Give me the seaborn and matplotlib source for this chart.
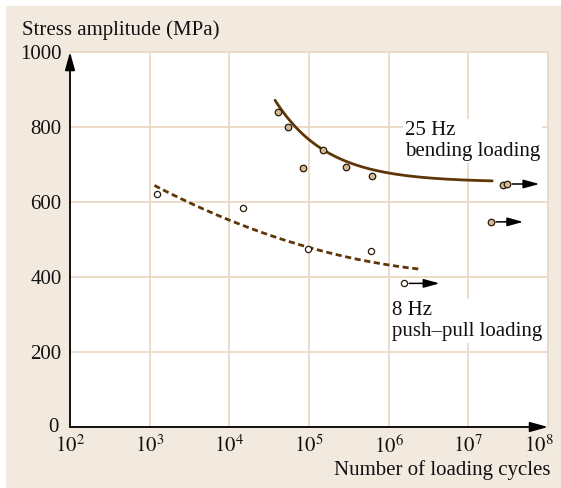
import numpy as np
import pandas as pd
import matplotlib
matplotlib.use("Agg")
import matplotlib.pyplot as plt
from matplotlib.patches import Rectangle
from matplotlib.transforms import ScaledTranslation
import seaborn as sns

# Bending loading (25 Hz): failures and run-outs
bend_cycles = [4.13e4, 5.42e4, 8.5e4, 1.51e5, 2.95e5, 6.17e5]
bend_stress = [839, 800, 691, 740, 693, 670]
bend_runout_cycles = [2.7e7, 3.1e7, 1.9e7]
bend_runout_stress = [645, 648, 547]

# Push-pull loading (8 Hz): failures and run-outs
pp_cycles = [1.22e3, 1.47e4, 9.7e4, 5.98e5]
pp_stress = [621, 583, 475, 469]
pp_runout_cycles = [1.58e6]
pp_runout_stress = [383]

# S-N trend curves (log10 cycles, stress)
bend_fit_logn = [4.574, 5.0, 5.18, 6.0]
bend_fit_stress = [865, 770, 740, 677]
bend_fit_limit = 653          # endurance level the bending curve levels off at
bend_fit_end = 7.3            # log10 cycles where the bending curve stops
pp_fit_logn = [3.06, 4.0, 5.0, 6.0, 6.38]
pp_fit_stress = [644, 552, 479, 431, 422]

y_ticks = [0, 200, 400, 600, 800, 1000]
x_ticks = [1e2, 1e3, 1e4, 1e5, 1e6, 1e7, 1e8]
x_tick_labels = [r"$10^{%d}$" % int(np.log10(t)) for t in x_ticks]

BEIGE = "#F2EADF"
GRID = "#EAD9C4"
BROWN = "#5E3608"
TAN = "#D5BA97"
FS = 15

sns.set_theme(style="white")
plt.rcParams["font.family"] = ["Liberation Serif", "DejaVu Serif"]
plt.rcParams["mathtext.fontset"] = "stix"

fig = plt.figure(figsize=(5.61, 4.88), dpi=100)
fig.patch.set_facecolor("white")
fig.patches.append(Rectangle((6 / 561, 0), 1 - 6 / 561, (488 - 6) / 488,
                             transform=fig.transFigure, facecolor=BEIGE,
                             edgecolor="none", zorder=-10))

ax = fig.add_axes([70 / 561, 61 / 488, 478 / 561, 375 / 488])
ax.set_facecolor("white")
ax.set_xscale("log")
ax.set_xlim(1e2, 1e8)
ax.set_ylim(0, 1000)

ax.grid(True, color=GRID, linewidth=1.3, zorder=0)
ax.set_axisbelow(True)
for side in ("top", "right"):
    ax.spines[side].set_color(GRID)
    ax.spines[side].set_linewidth(1.3)
for side in ("left", "bottom"):
    ax.spines[side].set_visible(False)

# Axis arrows
for tip in [(1.0, 0), (0, 1.0)]:
    ax.annotate("", xy=tip, xytext=(0, 0), xycoords="axes fraction",
                arrowprops=dict(arrowstyle="-|>,head_length=0.9,head_width=0.25",
                                color="black", lw=1.3, shrinkA=0, shrinkB=0),
                zorder=5, annotation_clip=False)

# Bending trend: exponential approach to the endurance level
b_slope, b_icpt = np.polyfit(bend_fit_logn,
                             np.log(np.array(bend_fit_stress) - bend_fit_limit), 1)
bl = np.linspace(bend_fit_logn[0], bend_fit_end, 200)
bend_curve = pd.DataFrame({"N": 10 ** bl,
                           "S": bend_fit_limit + np.exp(b_icpt + b_slope * bl)})
sns.lineplot(data=bend_curve, x="N", y="S", ax=ax, color=BROWN, lw=2.0,
             zorder=3, sort=False)

# Push-pull trend: quadratic in log cycles
pp_coef = np.polyfit(pp_fit_logn, pp_fit_stress, 2)
pl = np.linspace(pp_fit_logn[0], pp_fit_logn[-1], 200)
pp_curve = pd.DataFrame({"N": 10 ** pl, "S": np.polyval(pp_coef, pl)})
sns.lineplot(data=pp_curve, x="N", y="S", ax=ax, color=BROWN, lw=2.0,
             zorder=3, sort=False, linestyle=(0, (2.2, 1.3)))

# Data points
bend_df = pd.DataFrame({"N": bend_cycles + bend_runout_cycles,
                        "S": bend_stress + bend_runout_stress})
sns.scatterplot(data=bend_df, x="N", y="S", ax=ax, color=TAN, s=22,
                edgecolor="#2a1a08", linewidth=0.9, zorder=4)
pp_df = pd.DataFrame({"N": pp_cycles + pp_runout_cycles,
                      "S": pp_stress + pp_runout_stress})
sns.scatterplot(data=pp_df, x="N", y="S", ax=ax, color="white", s=20,
                edgecolor="#2a1a08", linewidth=0.9, zorder=4)

# Run-out arrows
def runout_arrow(n, s, start=0.07, length=0.32):
    ax.annotate("", xy=(n * 10 ** (start + length), s),
                xytext=(n * 10 ** start, s),
                arrowprops=dict(arrowstyle="-|>,head_length=0.8,head_width=0.22",
                                color="black", lw=1.1, shrinkA=0, shrinkB=0),
                zorder=5, annotation_clip=False)

runout_arrow(bend_runout_cycles[1], bend_runout_stress[1], 0.06, 0.34)
runout_arrow(bend_runout_cycles[2], bend_runout_stress[2], 0.07, 0.34)
runout_arrow(pp_runout_cycles[0], pp_runout_stress[0], 0.06, 0.38)

# Curve labels
ax.text(10 ** 6.2, 815, "25 Hz\nbending loading", fontsize=FS, ha="left",
        va="top", linespacing=1.1, color="#111111", zorder=6,
        bbox=dict(facecolor="white", edgecolor="none", pad=1.5))
ax.text(10 ** 6.04, 335, "8 Hz\npush\u2013pull loading", fontsize=FS, ha="left",
        va="top", linespacing=1.1, color="#111111", zorder=6,
        bbox=dict(facecolor="white", edgecolor="none", pad=1.5))

ax.set_yticks(y_ticks)
ax.set_yticklabels([str(t) for t in y_ticks], fontsize=FS)
ax.set_xticks(x_ticks)
ax.set_xticklabels(x_tick_labels, fontsize=FS)
ax.minorticks_off()
ax.tick_params(axis="both", length=0, pad=6, colors="#111111")
ax.set_xlabel("")
ax.set_ylabel("")

# Keep the last decade label inside the figure
last = ax.get_xticklabels()[-1]
last.set_transform(last.get_transform() + ScaledTranslation(-9 / 100, 0, fig.dpi_scale_trans))
# Lift the zero label a little off the x tick row
zero = ax.get_yticklabels()[0]
zero.set_transform(zero.get_transform() + ScaledTranslation(-3 / 100, 2 / 100, fig.dpi_scale_trans))

fig.text(22 / 561, 1 - 30 / 488, "Stress amplitude (MPa)", fontsize=FS,
         ha="left", va="center", color="#111111")
fig.text(550 / 561, 1 - 470 / 488, "Number of loading cycles", fontsize=FS,
         ha="right", va="center", color="#111111")

fig.savefig("out.png", dpi=100, facecolor=fig.get_facecolor())
